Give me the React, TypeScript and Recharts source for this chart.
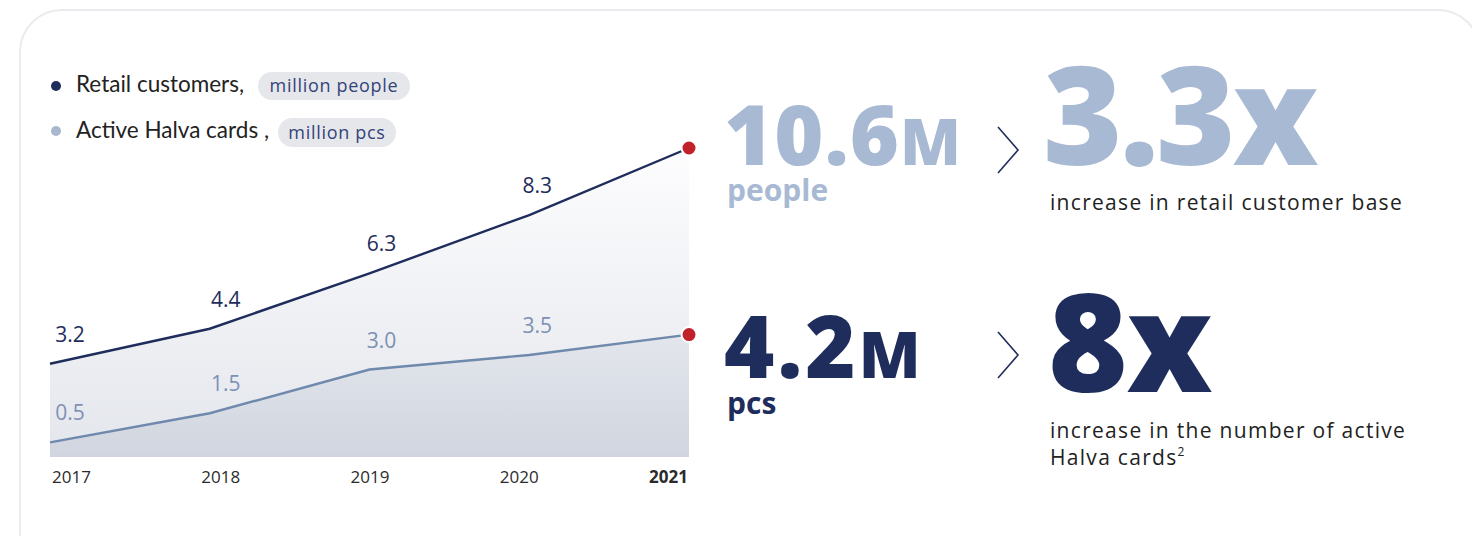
import React from "react";
import { ComposedChart, Area, XAxis, YAxis } from "recharts";

const years = ["2017", "2018", "2019", "2020", "2021"];
const retailCustomers = [3.2, 4.4, 6.3, 8.3, 10.6];
const activeCards = [0.5, 1.5, 3.0, 3.5, 4.2];
const legendItems = [
  { label: "Retail customers,", unit: "million people" },
  { label: "Active Halva cards ,", unit: "million pcs" },
];
const highlightRetail = { value: "10.6", suffix: "M", unit: "people", multiple: "3.3x", text: ["increase in retail customer base"] };
const highlightCards = { value: "4.2", suffix: "M", unit: "pcs", multiple: "8x", text: ["increase in the number of active", "Halva cards"] };

const data = years.map((y, i) => ({ year: y, retail: retailCustomers[i], cards: activeCards[i] }));

const NAVY = "#1f2d5c";
const SLATE = "#6f89ad";
const LIGHT = "#a8b9d3";
const RED = "#c0212b";
const FONT = "'Open Sans', 'Noto Sans', sans-serif";

const lastIdx = years.length - 1;

const makeDot = () => (props: any) => {
  const { cx, cy, index } = props;
  if (index !== lastIdx) return <g key={`d${index}`} />;
  return <circle key={`d${index}`} cx={cx} cy={cy} r={7.5} fill={RED} stroke="#fff" strokeWidth={2} />;
};

const makeLabel = (color: string) => (props: any) => {
  const { x, y, index, value } = props;
  if (index === lastIdx) return <g key={`l${index}`} />;
  return (
    <text key={`l${index}`} x={x + 20 - 4 * index} y={y - 22} textAnchor="middle" fill={color} fontSize={21} fontFamily={FONT}>
      {Number(value).toFixed(1)}
    </text>
  );
};

const Tick = (props: any) => {
  const { x, y, payload, index } = props;
  return (
    <text x={x + 2 - 10.5 * index} y={y + 26} textAnchor="start" fill="#2b2b2b" fontSize={17} fontFamily={FONT} fontWeight={index === lastIdx ? 700 : 400}>
      {payload.value}
    </text>
  );
};

const Chevron = ({ x, y }: { x: number; y: number }) => (
  <polyline points={`${x},${y} ${x + 20},${y + 23} ${x},${y + 46}`} fill="none" stroke={NAVY} strokeWidth={1.6} />
);

export default function App() {
  return (
    <div style={{ position: "absolute", left: 0, top: 0, width: 1472, height: 536, background: "#fff", overflow: "hidden" }}>
      <svg width={1472} height={536} style={{ position: "absolute", left: 0, top: 0 }}>
        <rect x={20} y={10} width={1460} height={570} rx={42} fill="#fff" stroke="#ebebef" strokeWidth={2} />
      </svg>
      <div style={{ position: "absolute", left: 0, top: 0 }}>
        <ComposedChart width={720} height={536} data={data} margin={{ top: 148, right: 31, bottom: 49, left: 50 }}>
          <defs>
            <linearGradient id="gRetail" x1="0" y1="0" x2="0" y2="1">
              <stop offset="0%" stopColor="#fdfdfe" />
              <stop offset="100%" stopColor="#e3e6ec" />
            </linearGradient>
            <linearGradient id="gCards" x1="0" y1="0" x2="0" y2="1">
              <stop offset="0%" stopColor="#e3e6ec" />
              <stop offset="100%" stopColor="#d0d5df" />
            </linearGradient>
          </defs>
          <XAxis dataKey="year" height={30} axisLine={false} tickLine={false} tickSize={0} tickMargin={0} interval={0} padding={{ left: 0, right: 0 }} tick={<Tick />} />
          <YAxis hide domain={[0, 10.6]} />
          <Area type="linear" dataKey="retail" stroke={NAVY} strokeWidth={2.4} fill="url(#gRetail)" fillOpacity={1} dot={makeDot()} activeDot={false} label={makeLabel(NAVY)} isAnimationActive={false} />
          <Area type="linear" dataKey="cards" stroke={SLATE} strokeWidth={2.4} fill="url(#gCards)" fillOpacity={1} dot={makeDot()} activeDot={false} label={makeLabel("#7d91b5")} isAnimationActive={false} />
        </ComposedChart>
      </div>
      <svg width={1472} height={536} style={{ position: "absolute", left: 0, top: 0, pointerEvents: "none" }}>
        {/* legend */}
        <circle cx={56} cy={86} r={5} fill={NAVY} />
        <text x={76} y={92} fontSize={22.5} fill="#222" fontFamily="Lato, sans-serif">{legendItems[0].label}</text>
        <rect x={258} y={72} width={152} height={28} rx={14} fill="#e6e7eb" />
        <text x={334} y={92} textAnchor="middle" fontSize={18} letterSpacing={0.7} fill="#34437a" fontFamily={FONT}>{legendItems[0].unit}</text>
        <circle cx={56} cy={131} r={5} fill="#a9b7cf" />
        <text x={76} y={138} fontSize={22.5} fill="#222" fontFamily="Lato, sans-serif">{legendItems[1].label}</text>
        <rect x={278} y={118} width={118} height={29} rx={14.5} fill="#e6e7eb" />
        <text x={337} y={138.5} textAnchor="middle" fontSize={18} letterSpacing={0.7} fill="#34437a" fontFamily={FONT}>{legendItems[1].unit}</text>

        {/* top highlight */}
        <text x={724} y={165} fontSize={84} fontWeight={800} fill={LIGHT} fontFamily={FONT} letterSpacing={1}>
          {highlightRetail.value}
          <tspan fontSize={63}>{highlightRetail.suffix}</tspan>
        </text>
        <text x={727} y={201} fontSize={30} fontWeight={700} fill={LIGHT} fontFamily={FONT}>{highlightRetail.unit}</text>
        <Chevron x={998} y={127} />
        <text x={1043} y={165} fontSize={136} fontWeight={800} fill={LIGHT} fontFamily={FONT} letterSpacing={-3}>{highlightRetail.multiple}</text>
        <text x={1050} y={210} fontSize={21} letterSpacing={1.3} fill="#222" fontFamily={FONT}>{highlightRetail.text[0]}</text>

        {/* bottom highlight */}
        <text x={724} y={378} fontSize={86} fontWeight={800} fill={NAVY} fontFamily={FONT} letterSpacing={3}>
          {highlightCards.value}
          <tspan fontSize={64}>{highlightCards.suffix}</tspan>
        </text>
        <text x={727} y={414} fontSize={30} fontWeight={700} fill={NAVY} fontFamily={FONT}>{highlightCards.unit}</text>
        <Chevron x={998} y={332} />
        <text x={1048} y={392} fontSize={136} fontWeight={800} fill={NAVY} fontFamily={FONT} letterSpacing={-1}>{highlightCards.multiple}</text>
        <text x={1050} y={438} fontSize={21} letterSpacing={1.3} fill="#222" fontFamily={FONT}>{highlightCards.text[0]}</text>
        <text x={1050} y={465} fontSize={21} letterSpacing={1.3} fill="#222" fontFamily={FONT}>
          {highlightCards.text[1]}
          <tspan fontSize={12} dy={-9}>2</tspan>
        </text>
      </svg>
    </div>
  );
}
